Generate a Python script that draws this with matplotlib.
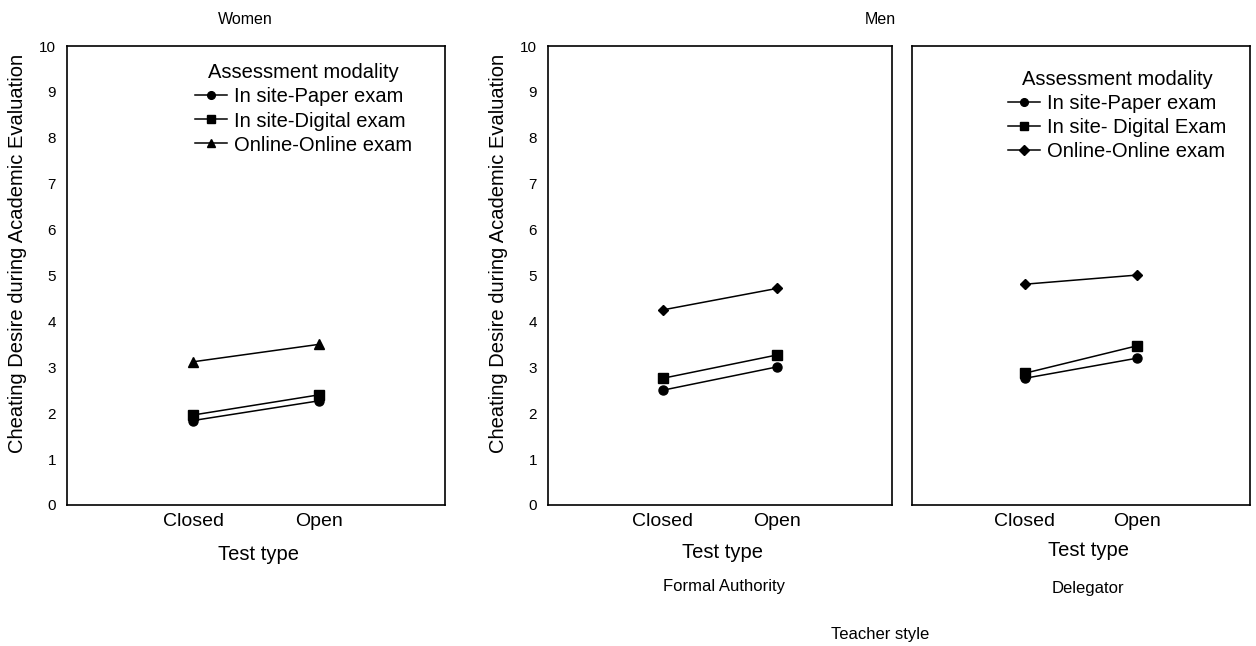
import matplotlib
matplotlib.use("Agg")
import matplotlib.pyplot as plt

plt.rcParams['font.family'] = ['Liberation Sans', 'DejaVu Sans']

# data
test_types = ["Closed", "Open"]
x_pos = [1, 2]

women_paper = [1.84, 2.27]
women_digital = [1.96, 2.40]
women_online = [3.12, 3.50]

formal_paper = [2.50, 3.01]
formal_digital = [2.76, 3.27]
formal_online = [4.25, 4.72]

deleg_paper = [2.76, 3.20]
deleg_digital = [2.87, 3.47]
deleg_online = [4.81, 5.01]

y_ticks = list(range(0, 11))

W, H = 1256, 646
fig = plt.figure(figsize=(W / 100, H / 100), dpi=100)


def px_axes(x0, x1, y_top, y_bot):
    return fig.add_axes([x0 / W, 1 - y_bot / H, (x1 - x0) / W, (y_bot - y_top) / H])


def style(ax, show_y=True):
    ax.set_xlim(0, 3)
    ax.set_ylim(0, 10)
    ax.set_xticks(x_pos)
    ax.set_xticklabels(test_types, fontsize=14)
    ax.set_yticks(y_ticks)
    if show_y:
        ax.set_yticklabels([str(t) for t in y_ticks], fontsize=11)
    else:
        ax.set_yticklabels([])
    ax.tick_params(axis='x', length=0, pad=6)
    ax.tick_params(axis='y', length=0, pad=8)
    for sp in ax.spines.values():
        sp.set_linewidth(1.2)


def draw(ax, paper, digital, online, online_marker, labels):
    ax.plot(x_pos, paper, color='black', lw=1.1, marker='o', ms=6.5, label=labels[0])
    ax.plot(x_pos, digital, color='black', lw=1.1, marker='s', ms=6.5, label=labels[1])
    ms = 6.5 if online_marker == '^' else 5.5
    ax.plot(x_pos, online, color='black', lw=1.1, marker=online_marker, ms=ms, label=labels[2])


ax1 = px_axes(67, 445, 46, 505)
ax2 = px_axes(548, 892, 46, 505)
ax3 = px_axes(912, 1250, 46, 505)

draw(ax1, women_paper, women_digital, women_online, '^',
     ["In site-Paper exam", "In site-Digital exam", "Online-Online exam"])
draw(ax2, formal_paper, formal_digital, formal_online, 'D',
     ["In site-Paper exam", "In site- Digital Exam", "Online-Online exam"])
draw(ax3, deleg_paper, deleg_digital, deleg_online, 'D',
     ["In site-Paper exam", "In site- Digital Exam", "Online-Online exam"])

style(ax1)
style(ax2)
style(ax3, show_y=False)

leg_kw = dict(frameon=False, fontsize=14.5, title="Assessment modality", title_fontsize=14.5,
              handlelength=1.6, handletextpad=0.35, labelspacing=0.25, borderpad=0,
              borderaxespad=0, loc='upper left', markerscale=0.85)
ax1.legend(bbox_to_anchor=(0.338, 0.962), **leg_kw)
ax3.legend(bbox_to_anchor=(0.284, 0.947), **leg_kw)

ylab = "Cheating Desire during Academic Evaluation"
fig.text(18 / W, 1 - 253 / H, ylab, rotation=90, ha='center', va='center', fontsize=14.5)
fig.text(498 / W, 1 - 253 / H, ylab, rotation=90, ha='center', va='center', fontsize=14.5)

fig.text(245 / W, 1 - 20 / H, "Women", ha='center', va='center', fontsize=11.5)
fig.text(880 / W, 1 - 20 / H, "Men", ha='center', va='center', fontsize=11.5)

fig.text(258 / W, 1 - 555 / H, "Test type", ha='center', va='center', fontsize=14.5)
fig.text(722 / W, 1 - 552 / H, "Test type", ha='center', va='center', fontsize=14.5)
fig.text(1088 / W, 1 - 550 / H, "Test type", ha='center', va='center', fontsize=14.5)

fig.text(724 / W, 1 - 587 / H, "Formal Authority", ha='center', va='center', fontsize=12)
fig.text(1088 / W, 1 - 588 / H, "Delegator", ha='center', va='center', fontsize=12)
fig.text(880 / W, 1 - 634 / H, "Teacher style", ha='center', va='center', fontsize=12)

fig.savefig("out.png", dpi=100)
